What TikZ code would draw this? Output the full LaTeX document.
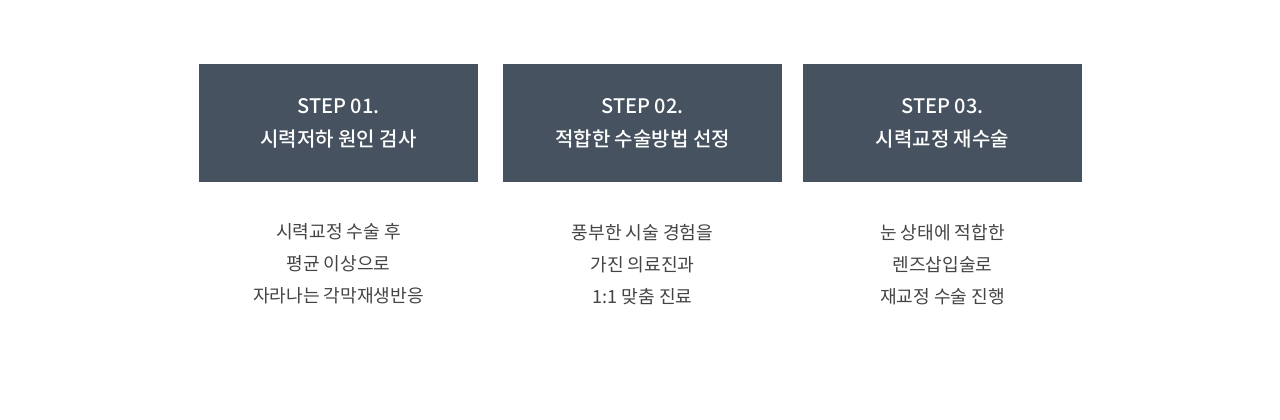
\documentclass[tikz,border=0pt]{standalone}
\usepackage{fontspec}
\setmainfont{Noto Sans CJK KR}
\newfontfamily\krmed{Noto Sans CJK KR Medium}
\usetikzlibrary{positioning}
\definecolor{stepgray}{HTML}{46525F}
\definecolor{desctext}{HTML}{444444}

\begin{document}
\begin{tikzpicture}[x=0.75pt,y=-0.75pt,
  stepbox/.style={fill=stepgray,text=white,minimum width=209.25pt,minimum height=88.5pt,inner sep=0pt,align=center,font=\krmed\fontsize{15}{24.75}\selectfont},
  desc/.style={text=desctext,align=center,inner sep=0pt,font=\fontsize{13.6}{24}\selectfont}]
\useasboundingbox (0,0) rectangle (1280,420);
\foreach \i/\x/\t/\d in {1/338.5/{시력저하 원인 검사}/{시력교정 수술 후\\평균 이상으로\\자라나는 각막재생반응},
                         2/642.5/{적합한 수술방법 선정}/{풍부한 시술 경험을\\가진 의료진과\\1:1 맞춤 진료},
                         3/942.5/{시력교정 재수술}/{눈 상태에 적합한\\렌즈삽입술로\\재교정 수술 진행}}
 { \node[stepbox] (step\i) at (\x,123) {STEP 0\i.\\\t};
   \node[desc,below=31pt of step\i] (desc\i) {\d}; }
\end{tikzpicture}
\end{document}
